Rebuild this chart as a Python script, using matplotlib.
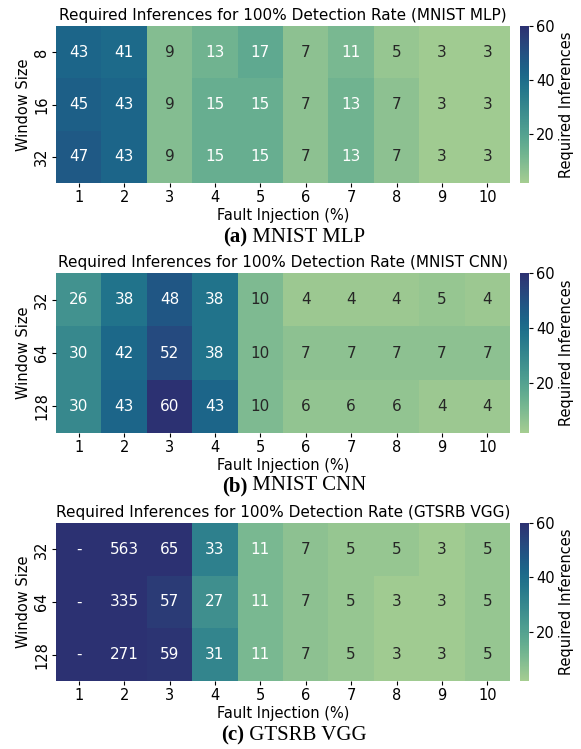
import matplotlib
matplotlib.use("Agg")
import matplotlib.pyplot as plt
import numpy as np
import seaborn as sns

fault_pct = [1, 2, 3, 4, 5, 6, 7, 8, 9, 10]

mlp_windows = [8, 16, 32]
mlp_vals = [
    [43, 41, 9, 13, 17, 7, 11, 5, 3, 3],
    [45, 43, 9, 15, 15, 7, 13, 7, 3, 3],
    [47, 43, 9, 15, 15, 7, 13, 7, 3, 3],
]

cnn_windows = [32, 64, 128]
cnn_vals = [
    [26, 38, 48, 38, 10, 4, 4, 4, 5, 4],
    [30, 42, 52, 38, 10, 7, 7, 7, 7, 7],
    [30, 43, 60, 43, 10, 6, 6, 6, 4, 4],
]

vgg_windows = [32, 64, 128]
# None = never reached 100% detection, shown as "-"
vgg_vals = [
    [None, 563, 65, 33, 11, 7, 5, 5, 3, 5],
    [None, 335, 57, 27, 11, 7, 5, 3, 3, 5],
    [None, 271, 59, 31, 11, 7, 5, 3, 3, 5],
]

panels = [
    ("MNIST MLP", "(a)", mlp_windows, mlp_vals),
    ("MNIST CNN", "(b)", cnn_windows, cnn_vals),
    ("GTSRB VGG", "(c)", vgg_windows, vgg_vals),
]

W, H = 581, 749
fig = plt.figure(figsize=(W / 100, H / 100), dpi=100)
renderer = fig.canvas.get_renderer()

# (top, bottom, caption y) in pixels for each panel
boxes = [(26, 183, 237), (273, 433, 486), (523, 681, 735)]
left, right = 56, 510
cap_x = 294

for (name, tag, windows, vals), (top, bot, cap_y) in zip(panels, boxes):
    ax = fig.add_axes([left / W, 1 - bot / H, (right - left) / W, (bot - top) / H])
    cax = fig.add_axes([520 / W, 1 - bot / H, 9 / W, (bot - top) / H])

    data = np.array([[1000 if v is None else v for v in row] for row in vals], dtype=float)
    labels = np.array([["-" if v is None else str(v) for v in row] for row in vals])

    sns.heatmap(data, ax=ax, cbar_ax=cax, cmap="crest", vmin=2, vmax=60,
                annot=labels, fmt="", annot_kws={"fontsize": 11},
                xticklabels=fault_pct, yticklabels=windows,
                cbar_kws={"ticks": [20, 40, 60]})

    ax.set_title(f"Required Inferences for 100% Detection Rate ({name})", fontsize=11, pad=4)
    ax.set_xlabel("Fault Injection (%)", fontsize=10.5, labelpad=2)
    ax.set_ylabel("Window Size", fontsize=10.5, labelpad=2)
    ax.tick_params(axis="both", labelsize=10.5, length=3, pad=2)
    plt.setp(ax.get_yticklabels(), rotation=90, va="center")
    plt.setp(ax.get_xticklabels(), rotation=0)

    cax.tick_params(labelsize=10.5, length=3, pad=2)
    cax.set_ylabel("Required Inferences", fontsize=10.5, labelpad=3)

    # caption: bold tag + plain name, centred as one line
    t1 = fig.text(0, 1 - cap_y / H, tag, family="Liberation Serif",
                  fontweight="bold", fontsize=15, ha="left", va="center")
    t2 = fig.text(0, 1 - cap_y / H, " " + name, family="Liberation Serif",
                  fontsize=15, ha="left", va="center")
    w1 = t1.get_window_extent(renderer).width
    w2 = t2.get_window_extent(renderer).width
    x0 = cap_x - (w1 + w2) / 2
    t1.set_x(x0 / W)
    t2.set_x((x0 + w1) / W)

fig.savefig("out.png", dpi=100)
